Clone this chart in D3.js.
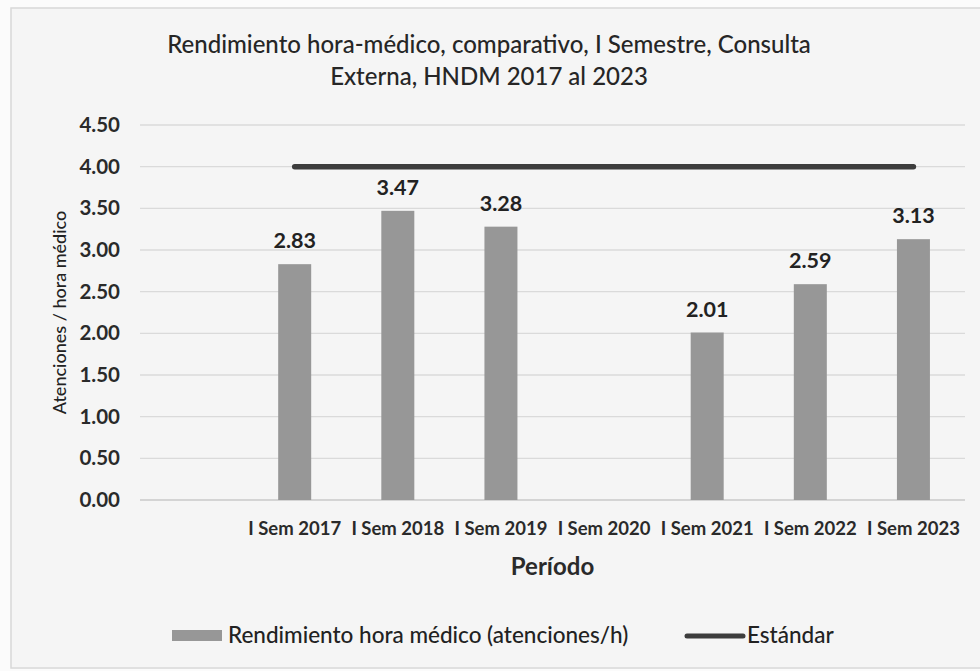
<!DOCTYPE html>
<html>
<head>
<meta charset="utf-8">
<script src="https://cdn.jsdelivr.net/npm/d3@7"></script>
<style>
  body { margin: 0; background: #fff; }
  svg { display: block; font-family: Lato, "Open Sans", sans-serif; }
</style>
</head>
<body>
<svg width="980" height="671"></svg>
<script>
// datos del gráfico
const periodos = ["", "I Sem 2017", "I Sem 2018", "I Sem 2019", "I Sem 2020", "I Sem 2021", "I Sem 2022", "I Sem 2023"];
const rendimiento = [null, 2.83, 3.47, 3.28, null, 2.01, 2.59, 3.13];
const estandar = [null, 4, 4, 4, 4, 4, 4, 4];
const yTicks = [0, 0.5, 1, 1.5, 2, 2.5, 3, 3.5, 4, 4.5];

const svg = d3.select("svg");
const width = +svg.attr("width");
const height = +svg.attr("height");

// fondo y marco
svg.append("rect").attr("width", width).attr("height", height).attr("fill", "#fbfbfb");
svg.append("rect")
    .attr("x", 11).attr("y", 8).attr("width", width + 10).attr("height", 660)
    .attr("fill", "#f5f5f5").attr("stroke", "#d8d8d8").attr("stroke-width", 1.5);

const margin = {left: 140, right: 15, top: 125, bottom: 171};
const x = d3.scaleBand()
    .domain(periodos)
    .range([margin.left, width - margin.right])
    .paddingInner(0.68)
    .paddingOuter(0.34);
const y = d3.scaleLinear().domain([0, 4.5]).range([height - margin.bottom, margin.top]);

// título
const title = svg.append("text")
    .attr("text-anchor", "middle")
    .attr("fill", "#262626")
    .style("font-size", "24px")
    .style("font-weight", 500);
title.append("tspan").attr("x", 489).attr("y", 53).text("Rendimiento hora-médico, comparativo, I Semestre, Consulta");
title.append("tspan").attr("x", 489).attr("y", 85).text("Externa, HNDM 2017 al 2023");

// rejilla
svg.append("g")
    .selectAll("line")
    .data(yTicks)
    .enter()
    .append("line")
    .attr("x1", margin.left).attr("x2", width - margin.right)
    .attr("y1", d => y(d)).attr("y2", d => y(d))
    .attr("stroke", d => d === 0 ? "#c8c8c8" : "#dadada")
    .attr("stroke-width", 1.3);

// eje y
const yAxis = svg.append("g")
    .attr("transform", "translate(" + (margin.left - 20) + ",0)")
    .call(d3.axisLeft(y).tickValues(yTicks).tickFormat(d3.format(".2f")).tickSize(0).tickPadding(0));
yAxis.select(".domain").remove();
yAxis.selectAll("text")
    .attr("fill", "#2a2a2a")
    .style("font-family", "Lato, sans-serif")
    .style("font-size", "20.5px")
    .style("font-weight", "bold");

// eje x
const xAxis = svg.append("g")
    .attr("transform", "translate(0," + (height - margin.bottom) + ")")
    .call(d3.axisBottom(x).tickSize(0).tickPadding(22));
xAxis.select(".domain").remove();
xAxis.selectAll("text")
    .attr("fill", "#2a2a2a")
    .style("font-family", "Lato, sans-serif")
    .style("font-size", "18.5px")
    .style("font-weight", "bold");

// títulos de ejes
svg.append("text")
    .attr("transform", "translate(66," + (y(2.25)) + ") rotate(-90)")
    .attr("text-anchor", "middle")
    .attr("fill", "#222")
    .style("font-size", "18px")
    .style("font-weight", 500)
    .text("Atenciones / hora médico");
svg.append("text")
    .attr("x", (margin.left + width - margin.right) / 2)
    .attr("y", 575)
    .attr("text-anchor", "middle")
    .attr("fill", "#2a2a2a")
    .style("font-size", "24px")
    .style("font-weight", "bold")
    .text("Período");

// barras
const barData = periodos.map((p, i) => ({p: p, v: rendimiento[i]})).filter(d => d.v !== null);
svg.append("g")
    .selectAll("rect")
    .data(barData)
    .enter()
    .append("rect")
    .attr("x", d => x(d.p))
    .attr("width", x.bandwidth())
    .attr("y", d => y(d.v))
    .attr("height", d => y(0) - y(d.v))
    .attr("fill", "#979797");

// etiquetas de datos
svg.append("g")
    .selectAll("text")
    .data(barData)
    .enter()
    .append("text")
    .attr("x", d => x(d.p) + x.bandwidth() / 2)
    .attr("y", d => y(d.v) - 16)
    .attr("text-anchor", "middle")
    .attr("fill", "#222")
    .style("font-size", "21.5px")
    .style("font-weight", "bold")
    .text(d => d.v.toFixed(2));

// línea estándar
const lineData = periodos.map((p, i) => ({p: p, v: estandar[i]})).filter(d => d.v !== null);
const line = d3.line()
    .x(d => x(d.p) + x.bandwidth() / 2)
    .y(d => y(d.v));
svg.append("path")
    .datum(lineData)
    .attr("d", line)
    .attr("fill", "none")
    .attr("stroke", "#3d3d3d")
    .attr("stroke-width", 5.5)
    .attr("stroke-linecap", "round");

// leyenda
const leg = svg.append("g").style("font-size", "22.5px").attr("fill", "#222");
leg.append("rect").attr("x", 172).attr("y", 630).attr("width", 50).attr("height", 11).attr("fill", "#979797");
leg.append("text").attr("x", 228).attr("y", 643).style("font-weight", 500).text("Rendimiento hora médico (atenciones/h)");
leg.append("line").attr("x1", 687).attr("x2", 743).attr("y1", 636).attr("y2", 636)
    .attr("stroke", "#3d3d3d").attr("stroke-width", 5).attr("stroke-linecap", "round");
leg.append("text").attr("x", 747).attr("y", 643).style("font-weight", 500).text("Estándar");
</script>
</body>
</html>
